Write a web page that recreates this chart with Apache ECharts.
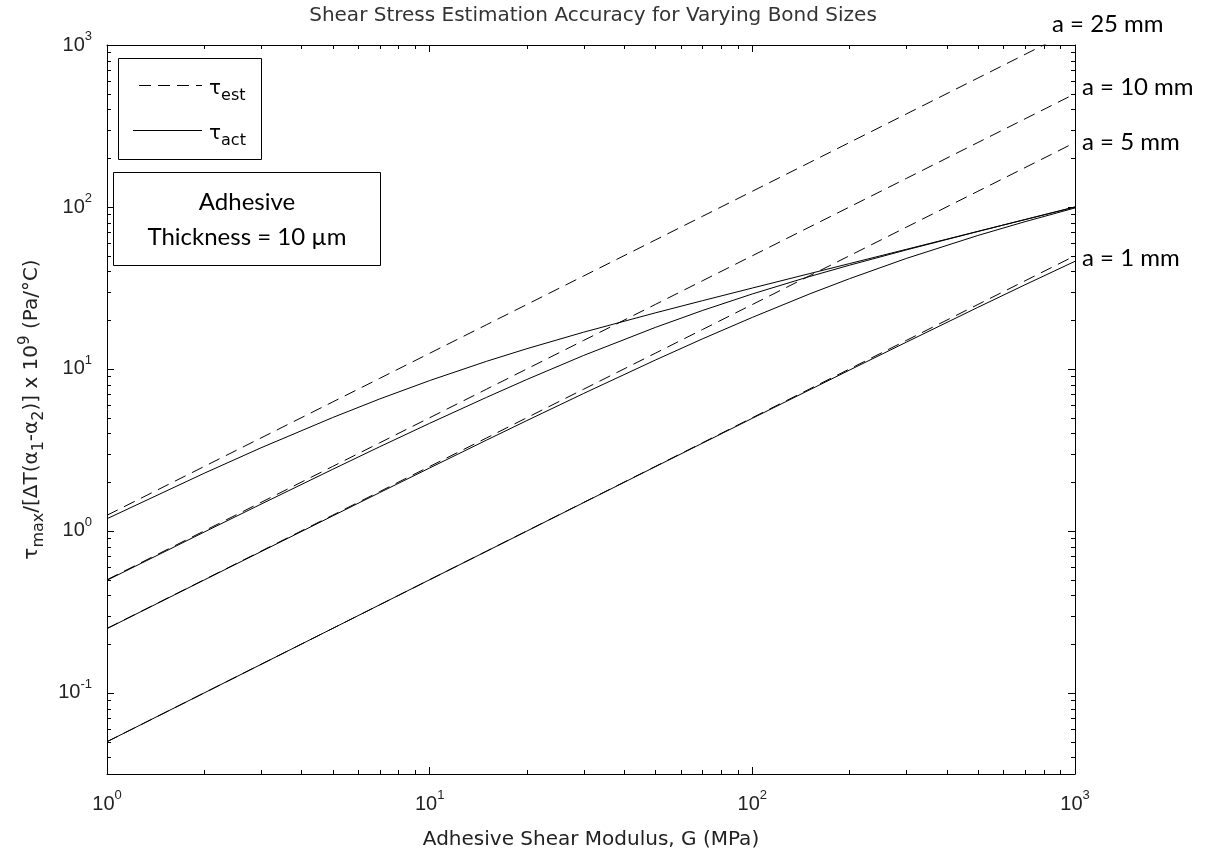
<!DOCTYPE html>
<html>
<head>
<meta charset="utf-8">
<title>Shear Stress Estimation Accuracy for Varying Bond Sizes</title>
<script src="https://cdn.jsdelivr.net/npm/echarts@6/dist/echarts.min.js"></script>
<style>
    html, body { margin: 0; padding: 0; background: #fff; }
    #page { width: 1214px; height: 855px; }
</style>
</head>
<body>
<div id="page"></div>
<script>
    // adhesive shear modulus G (MPa), sample points
    var modulus = [1, 2, 3, 5, 7, 10, 15, 20, 30, 50, 70, 100, 150, 200, 300, 500, 700, 1000];

    // tau_est (dashed), per bond size
    var est25 = [1.25, 2.5, 3.75, 6.25, 8.75, 12.5, 18.75, 25, 37.5, 62.5, 87.5, 125, 187.5, 250, 375, 625, 875, 1250];
    var est10 = [0.5, 1, 1.5, 2.5, 3.5, 5, 7.5, 10, 15, 25, 35, 50, 75, 100, 150, 250, 350, 500];
    var est5 = [0.25, 0.5, 0.75, 1.25, 1.75, 2.5, 3.75, 5, 7.5, 12.5, 17.5, 25, 37.5, 50, 75, 125, 175, 250];
    var est1 = [0.05, 0.1, 0.15, 0.25, 0.35, 0.5, 0.75, 1, 1.5, 2.5, 3.5, 5, 7.5, 10, 15, 25, 35, 50];

    // tau_act (solid), per bond size
    var act25 = [1.19, 2.27, 3.26, 5.01, 6.53, 8.48, 11.15, 13.34, 16.87, 22.19, 26.39, 31.6, 38.73, 44.72, 54.77, 70.71, 83.67, 100];
    var act10 = [0.496, 0.984, 1.463, 2.40, 3.31, 4.62, 6.68, 8.61, 12.12, 18.04, 22.95, 29.05, 37.15, 43.71, 54.31, 70.59, 83.61, 100];
    var act5 = [0.2495, 0.498, 0.745, 1.237, 1.725, 2.449, 3.637, 4.80, 7.06, 11.34, 15.33, 20.82, 28.98, 36.08, 48.12, 66.70, 81.15, 98.66];
    var act1 = [0.05, 0.1, 0.15, 0.25, 0.35, 0.5, 0.749, 0.998, 1.496, 2.49, 3.48, 4.96, 7.41, 9.84, 14.63, 24.01, 33.10, 46.21];

    var bondLabels = ['a = 25 mm', 'a = 10 mm', 'a = 5 mm', 'a = 1 mm'];

    // minor (log) tick positions
    var xMinorTicks = [2, 3, 4, 5, 6, 7, 8, 9, 20, 30, 40, 50, 60, 70, 80, 90, 200, 300, 400, 500, 600, 700, 800, 900];
    var yMinorTicks = [0.04, 0.05, 0.06, 0.07, 0.08, 0.09, 0.2, 0.3, 0.4, 0.5, 0.6, 0.7, 0.8, 0.9,
        2, 3, 4, 5, 6, 7, 8, 9, 20, 30, 40, 50, 60, 70, 80, 90, 200, 300, 400, 500, 600, 700, 800, 900];

    var yMin = 0.0316, yMax = 1000;

    var labelFont = 'Liberation Sans';
    var textFont = 'DejaVu Sans';
    var noteFont = 'Lato';

    function powLabel(value) {
        var e = Math.log10(value);
        var r = Math.round(e);
        if (Math.abs(e - r) > 1e-6) return '';
        return '{b|10}{s|' + r + '}';
    }

    var powRich = {
        b: {fontFamily: labelFont, fontSize: 20, lineHeight: 30, color: '#222'},
        s: {fontFamily: labelFont, fontSize: 13, lineHeight: 12, verticalAlign: 'top', color: '#222'}
    };

    function logAxis(pos, min, max, showLabel) {
        return {
            type: 'log',
            logBase: 10,
            position: pos,
            min: min,
            max: max,
            axisLine: {show: true, onZero: false, lineStyle: {color: '#000', width: 1}},
            axisTick: {show: true, inside: true, length: 7, lineStyle: {color: '#000', width: 1}},
            minorTick: {show: false},
            splitLine: {show: false},
            axisLabel: {
                show: showLabel,
                margin: 15,
                formatter: powLabel,
                rich: powRich
            }
        };
    }

    function lineSeries(vals, dashed) {
        return {
            type: 'line',
            data: modulus.map(function (g, i) { return [g, vals[i]]; }),
            symbol: 'none',
            clip: true,
            silent: true,
            lineStyle: {color: '#000', width: 1, type: dashed ? [12, 7] : 'solid'},
            z: 3
        };
    }

    function minorTickSeries(values, dir) {
        return {
            type: 'custom',
            silent: true,
            clip: false,
            z: 6,
            data: values.map(function (v) { return dir === 'x' ? [v, 1] : [1, v]; }),
            renderItem: function (params, api) {
                var cs = params.coordSys;
                var p = api.coord([api.value(0), api.value(1)]);
                var len = 4;
                var segs;
                if (dir === 'x') {
                    var x = Math.round(p[0]) + 0.5;
                    segs = [[x, cs.y + cs.height, x, cs.y + cs.height - len], [x, cs.y, x, cs.y + len]];
                } else {
                    var y = Math.round(p[1]) + 0.5;
                    segs = [[cs.x, y, cs.x + len, y], [cs.x + cs.width, y, cs.x + cs.width - len, y]];
                }
                return {
                    type: 'group',
                    children: segs.map(function (s) {
                        return {
                            type: 'line',
                            shape: {x1: s[0], y1: s[1], x2: s[2], y2: s[3]},
                            style: {stroke: '#000', lineWidth: 1}
                        };
                    })
                };
            }
        };
    }

    var xBottom = logAxis('bottom', 1, 1000, true);
    xBottom.name = 'Adhesive Shear Modulus, G (MPa)';
    xBottom.nameLocation = 'middle';
    xBottom.nameGap = 56;
    xBottom.nameTextStyle = {fontFamily: textFont, fontSize: 20, color: '#222'};

    var yLeft = logAxis('left', yMin, yMax, true);
    yLeft.name = '{n|τ}{sb|max}{n|/[ΔT(α}{sb|1}{n|-α}{sb|2}{n|)] x 10}{sp|9}{n| (Pa/°C)}';
    yLeft.nameLocation = 'middle';
    yLeft.nameGap = 56;
    yLeft.nameTextStyle = {
        rich: {
            n: {fontFamily: textFont, fontSize: 20, lineHeight: 30, color: '#222'},
            sb: {fontFamily: textFont, fontSize: 16, lineHeight: 14, verticalAlign: 'bottom', color: '#222'},
            sp: {fontFamily: textFont, fontSize: 15, lineHeight: 14, verticalAlign: 'top', color: '#222'}
        }
    };

    var legendRich = {
        t: {fontFamily: textFont, fontSize: 20, lineHeight: 30, color: '#000'},
        s: {fontFamily: textFont, fontSize: 16, lineHeight: 12, verticalAlign: 'bottom', color: '#000'}
    };

    var labelY = [24, 87, 142, 258];
    var labelX = [1052, 1082, 1082, 1082];

    var graphics = [
        // legend box
        {type: 'rect', z: 100, shape: {x: 118.5, y: 58.5, width: 143, height: 101}, style: {fill: '#fff', stroke: '#000', lineWidth: 1}},
        {type: 'line', z: 101, shape: {x1: 139, y1: 85.5, x2: 202, y2: 85.5}, style: {stroke: '#000', lineWidth: 1, lineDash: [12, 7]}},
        {type: 'line', z: 101, shape: {x1: 133, y1: 130.5, x2: 202, y2: 130.5}, style: {stroke: '#000', lineWidth: 1}},
        {type: 'text', z: 101, x: 209, y: 89, style: {text: '{t|τ}{s|est}', rich: legendRich, verticalAlign: 'middle'}},
        {type: 'text', z: 101, x: 209, y: 134, style: {text: '{t|τ}{s|act}', rich: legendRich, verticalAlign: 'middle'}},
        // thickness note
        {type: 'rect', z: 100, shape: {x: 113.5, y: 172.5, width: 267, height: 93}, style: {fill: '#fff', stroke: '#000', lineWidth: 1}},
        {type: 'text', z: 101, x: 247, y: 220, style: {
            text: 'Adhesive\nThickness = 10 µm', align: 'center', verticalAlign: 'middle',
            lineHeight: 35, font: '24px ' + noteFont, fill: '#000'
        }}
    ];
    bondLabels.forEach(function (t, i) {
        graphics.push({
            type: 'text', z: 101, x: labelX[i], y: labelY[i],
            style: {text: t, verticalAlign: 'middle', align: 'left', font: '24px ' + noteFont, fill: '#000'}
        });
    });

    var chart = echarts.init(document.getElementById('page'), null, {renderer: 'canvas'});
    chart.setOption({
        animation: false,
        backgroundColor: '#fff',
        title: {
            text: 'Shear Stress Estimation Accuracy for Varying Bond Sizes',
            left: 588,
            top: 1,
            textAlign: 'center',
            textStyle: {fontFamily: textFont, fontSize: 20, fontWeight: 'normal', color: '#333'}
        },
        grid: {left: 107, right: 139, top: 45, bottom: 77, containLabel: false},
        xAxis: [xBottom, logAxis('top', 1, 1000, false)],
        yAxis: [yLeft, logAxis('right', yMin, yMax, false)],
        series: [
            lineSeries(est25, true),
            lineSeries(est10, true),
            lineSeries(est5, true),
            lineSeries(est1, true),
            lineSeries(act25, false),
            lineSeries(act10, false),
            lineSeries(act5, false),
            lineSeries(act1, false),
            minorTickSeries(xMinorTicks, 'x'),
            minorTickSeries(yMinorTicks, 'y')
        ],
        graphic: graphics
    });
</script>
</body>
</html>
